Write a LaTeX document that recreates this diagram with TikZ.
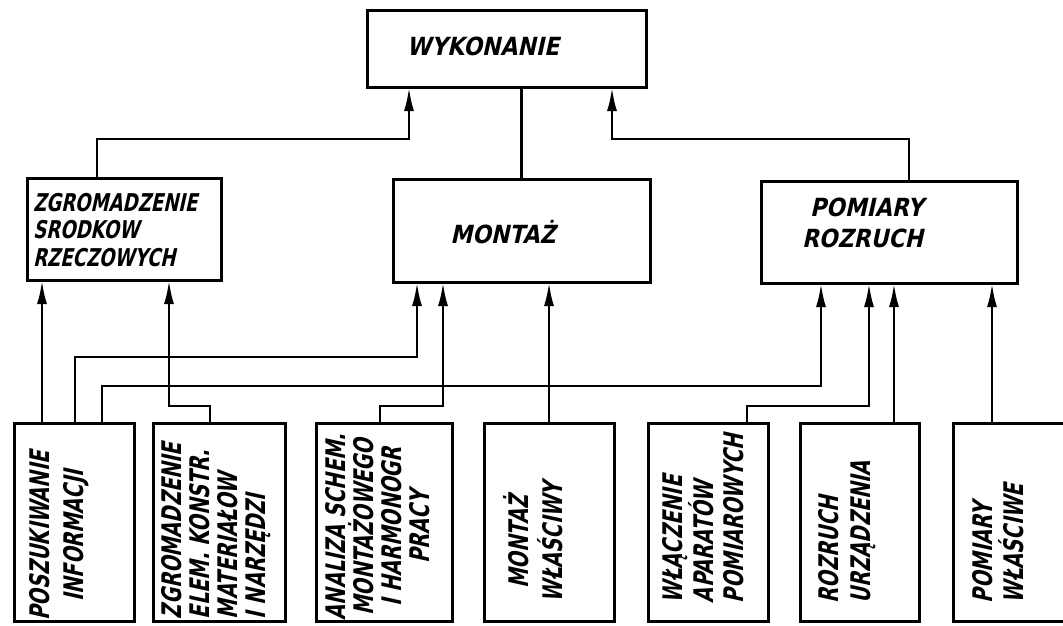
\documentclass[tikz,border=0pt]{standalone}
\usepackage{fontspec}
\usetikzlibrary{arrows.meta}
\newfontfamily\handH{DejaVu Sans}[FakeStretch=0.88,FakeSlant=0.22]
\newfontfamily\handZ{DejaVu Sans}[FakeStretch=0.74,FakeSlant=0.22]
\newfontfamily\handV{DejaVu Sans}[FakeStretch=0.72,FakeSlant=0.22]
\begin{document}
\begin{tikzpicture}[x=1pt,y=-1pt,
  box/.style={draw, line width=3pt, inner sep=0pt, outer sep=0pt, fill=white},
  con/.style={line width=2.8pt},
  arr/.style={con, -{Latex[length=24pt,width=10pt]}},
  lab/.style={inner sep=0pt, outer sep=0pt, text=black},
  hfont/.style={font=\handH\bfseries\fontsize{25}{31}\selectfont},
  vfont/.style={font=\handV\bfseries\fontsize{27}{#1}\selectfont},
]
\useasboundingbox (0,0) rectangle (1063,625);
\clip (0,0) rectangle (1063,625);

% boxes
\node[box, minimum width=279pt, minimum height=77pt] (wyk) at (506.5,48.5) {};
\node[box, minimum width=194pt, minimum height=102pt] (zgr) at (124,229) {};
\node[box, minimum width=257pt, minimum height=103pt] (mon) at (521.5,230.5) {};
\node[box, minimum width=256pt, minimum height=102pt] (pom) at (889,232) {};
\node[box, minimum width=120pt, minimum height=198pt] (b1) at (74,522) {};
\node[box, minimum width=132pt, minimum height=198pt] (b2) at (219,522) {};
\node[box, minimum width=136pt, minimum height=198pt] (b3) at (384,522) {};
\node[box, minimum width=130pt, minimum height=198pt] (b4) at (549,522) {};
\node[box, minimum width=120pt, minimum height=198pt] (b5) at (708,522) {};
\node[box, minimum width=119pt, minimum height=198pt] (b6) at (859.5,522) {};
\node[box, minimum width=127pt, minimum height=198pt] (b7) at (1016.5,522) {};

% labels
\node[lab, hfont] (twyk) at (483,46) {WYKONANIE};
\node[lab, font=\handZ\bfseries\fontsize{24.5}{27.5}\selectfont, align=left, anchor=west] (tzgr) at (33,230) {ZGROMADZENIE\\SRODKOW\\RZECZOWYCH};
\node[lab, hfont] (tmon) at (503,232) {MONTAŻ};
\node[lab, hfont, align=left, anchor=west] (tpom) at (802,223) {\hspace*{8pt}POMIARY\\ROZRUCH};

\node[lab, vfont=34, rotate=90, align=center] (t1) at (59,536) {POSZUKIWANIE\\INFORMACJI};
\node[lab, vfont=28, rotate=90, align=left, anchor=west] (t2) at (216,619) {ZGROMADZENIE\\ELEM. KONSTR.\\MATERIAŁOW\\I NARZĘDZI};
\node[lab, vfont=28, rotate=90, align=center] (t3) at (378,527) {ANALIZA SCHEM.\\MONTAŻOWEGO\\I HARMONOGR\\PRACY};
\node[lab, vfont=34, rotate=90, align=center] (t4) at (533,542) {MONTAŻ\\WŁAŚCIWY};
\node[lab, vfont=30, rotate=90, align=left, anchor=west] (t5) at (703,603) {WŁĄCZENIE\\APARATÓW\\POMIAROWYCH};
\node[lab, vfont=32, rotate=90, align=left, anchor=west] (t6) at (847,603) {ROZRUCH\\URZĄDZENIA};
\node[lab, vfont=31, rotate=90, align=left, anchor=west] (t7) at (998,603) {POMIARY\\WŁAŚCIWE};

% connectors to WYKONANIE
\draw[arr] ([xshift=-27pt]zgr.north) -- ++(0,-39) -| ([xshift=-97.5pt]wyk.south);
\draw[con] (mon.north) -- (mon.north |- wyk.south);
\draw[arr] ([xshift=20pt]pom.north) -- ++(0,-42) -| ([xshift=105.5pt]wyk.south);

% from POSZUKIWANIE INFORMACJI
\draw[arr] ([xshift=-32pt]b1.north) -- ([xshift=-32pt]b1.north |- zgr.south);
\draw[arr] ([xshift=1pt]b1.north) -- ++(0,-66) -| ([xshift=-104.5pt]mon.south);
\draw[arr] ([xshift=28pt]b1.north) -- ++(0,-37) -| ([xshift=-68pt]pom.south);

% others
\draw[arr] ([xshift=-9pt]b2.north) -- ++(0,-17) -| ([xshift=45pt]zgr.south);
\draw[arr] ([xshift=-4pt]b3.north) -- ++(0,-17) -| ([xshift=-78.5pt]mon.south);
\draw[arr] (b4.north) -- (b4.north |- mon.south);
\draw[arr] ([xshift=39pt]b5.north) -- ++(0,-17) -| ([xshift=-20pt]pom.south);
\draw[arr] ([xshift=34.5pt]b6.north) -- ([xshift=34.5pt]b6.north |- pom.south);
\draw[arr] ([xshift=-24.5pt]b7.north) -- ([xshift=-24.5pt]b7.north |- pom.south);
\end{tikzpicture}
\end{document}
